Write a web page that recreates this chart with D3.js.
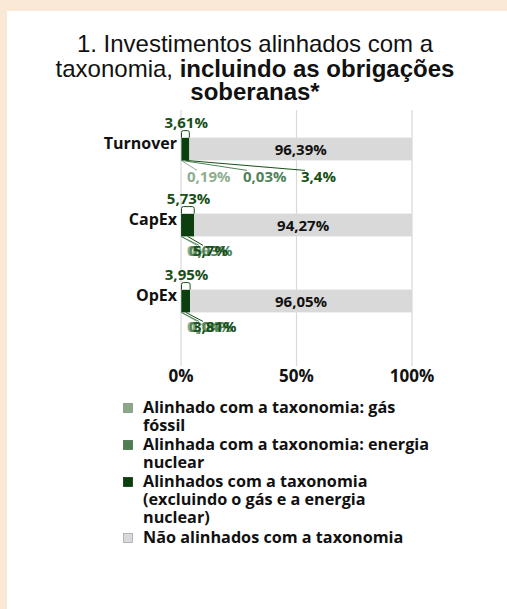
<!DOCTYPE html>
<html>
<head>
<meta charset="utf-8">
<script src="https://cdn.jsdelivr.net/npm/d3@7"></script>
<style>
  html, body { margin: 0; padding: 0; background: #fbe9d7; }
  svg { display: block; }
</style>
</head>
<body>
<div id="chart"></div>
<script>
// Taxonomy-aligned investments, including sovereign bonds
const categories = ["Turnover", "CapEx", "OpEx"];
const gasFossil = [0.19, 0.0, 0.1];
const nuclear = [0.03, 0.03, 0.04];
const alignedExcl = [3.4, 5.7, 3.81];
const notAligned = [96.39, 94.27, 96.05];
const alignedTotal = [3.61, 5.73, 3.95];
const xTicks = [0, 50, 100];

const legendLines = [
  ["Alinhado com a taxonomia: gás", "fóssil"],
  ["Alinhada com a taxonomia: energia", "nuclear"],
  ["Alinhados com a taxonomia", "(excluindo o gás e a energia", "nuclear)"],
  ["Não alinhados com a taxonomia"]
];

const colors = ["#8aa88a", "#4e7d52", "#0b3f0f", "#d9d9d9"];
const labelColors = ["#8fae8f", "#50835a", "#174f17", "#111111"];

const width = 507, height = 609;
const fmt = v => String(v).replace(".", ",") + "%";
const labelFont = "'Open Sans', Lato, sans-serif";

const svg = d3.select("#chart").append("svg")
  .attr("width", width)
  .attr("height", height);

// white panel
svg.append("rect")
  .attr("x", 7).attr("y", 11)
  .attr("width", width - 7).attr("height", height - 11)
  .attr("fill", "#ffffff");

// title
const title = svg.append("text")
  .attr("text-anchor", "middle")
  .style("font-family", "'Liberation Sans', Arial, sans-serif")
  .style("font-size", "24px")
  .attr("fill", "#111");
title.append("tspan").attr("x", 255).attr("y", 52).text("1. Investimentos alinhados com a");
const l2 = title.append("tspan").attr("x", 255).attr("y", 77);
l2.append("tspan").text("taxonomia, ");
l2.append("tspan").style("font-weight", "bold").text("incluindo as obrigações");
title.append("tspan").attr("x", 255).attr("y", 100).style("font-weight", "bold").text("soberanas*");

// scales
const x = d3.scaleLinear().domain([0, 100]).range([181, 412]);
const y = d3.scaleBand().domain(categories).range([111, 339]).paddingInner(0.7).paddingOuter(0.35);

const rows = categories.map((c, i) => ({
  cat: c, gas: gasFossil[i], nuc: nuclear[i], excl: alignedExcl[i], not: notAligned[i], total: alignedTotal[i]
}));
const keys = ["gas", "nuc", "excl", "not"];
const stacked = d3.stack().keys(keys)(rows);

// gridlines
svg.append("g")
  .selectAll("line")
  .data(xTicks)
  .join("line")
  .attr("x1", d => x(d)).attr("x2", d => x(d))
  .attr("y1", 110).attr("y2", 366)
  .attr("stroke", "#d9d9d9")
  .attr("stroke-width", 1.2);

// bars
svg.append("g")
  .selectAll("g")
  .data(stacked)
  .join("g")
  .attr("fill", (d, i) => colors[i])
  .selectAll("rect")
  .data(d => d)
  .join("rect")
  .attr("x", d => x(d[0]))
  .attr("y", d => y(d.data.cat))
  .attr("width", d => Math.max(0, x(d[1]) - x(d[0])))
  .attr("height", y.bandwidth());

// not-aligned value labels
svg.append("g")
  .selectAll("text")
  .data(stacked[3])
  .join("text")
  .attr("x", d => (x(d[0]) + x(100)) / 2)
  .attr("y", d => y(d.data.cat) + y.bandwidth() / 2 + 5.5)
  .attr("text-anchor", "middle")
  .style("font-family", labelFont)
  .style("font-weight", "bold")
  .style("font-size", "15px")
  .attr("fill", "#111")
  .text(d => fmt(d.data.not));

// top callout: aligned total
const topCallout = svg.append("g");
rows.forEach(r => {
  const y0 = y(r.cat);
  const xa = x(0) + 0.5, xb = x(r.total);
  topCallout.append("path")
    .attr("d", `M${xa},${y0} V${y0 - 5} Q${xa},${y0 - 7} ${xa + 2},${y0 - 7} H${xb - 2} Q${xb},${y0 - 7} ${xb},${y0 - 5} V${y0}`)
    .attr("fill", "#fff")
    .attr("stroke", "#174f17")
    .attr("stroke-width", 1);
  topCallout.append("text")
    .attr("x", x(r.total / 2) + 1)
    .attr("y", y0 - 10)
    .attr("text-anchor", "middle")
    .style("font-family", labelFont)
    .style("font-weight", "bold")
    .style("font-size", "15px")
    .attr("fill", "#174f17")
    .text(fmt(r.total));
});

// bottom callouts for the small aligned segments (label offsets from the axis)
const calloutDx = [
  [6, 62, 120],
  [6, 8, 12],
  [6, 8, 12]
];
const calloutDy = [22, 20, 20];
const bottomCallout = svg.append("g");
rows.forEach((r, i) => {
  const yb = y(r.cat) + y.bandwidth();
  [0, 1, 2].forEach(k => {
    const seg = stacked[k][i];
    const sx = x((seg[0] + seg[1]) / 2);
    const lx = x(0) + calloutDx[i][k];
    const ly = yb + calloutDy[i];
    const ex = i === 0 ? lx + (k === 0 ? 10 : 4) : lx + 10;
    bottomCallout.append("line")
      .attr("x1", sx).attr("y1", yb)
      .attr("x2", ex).attr("y2", ly - (i === 0 ? 12 : 11))
      .attr("stroke", labelColors[k])
      .attr("stroke-width", 1);
    bottomCallout.append("text")
      .attr("x", lx)
      .attr("y", ly)
      .style("font-family", labelFont)
      .style("font-weight", "bold")
      .style("font-size", "15px")
      .attr("fill", labelColors[k])
      .text(fmt([r.gas, r.nuc, r.excl][k]));
  });
});

// category labels
svg.append("g")
  .selectAll("text")
  .data(categories)
  .join("text")
  .attr("x", x(0) - 4)
  .attr("y", d => y(d) + 11)
  .attr("text-anchor", "end")
  .style("font-family", labelFont)
  .style("font-weight", "bold")
  .style("font-size", "16px")
  .attr("fill", "#111")
  .text(d => d);

// x axis labels
svg.append("g")
  .selectAll("text")
  .data(xTicks)
  .join("text")
  .attr("x", d => x(d))
  .attr("y", 382)
  .attr("text-anchor", "middle")
  .style("font-family", labelFont)
  .style("font-weight", "bold")
  .style("font-size", "17px")
  .attr("fill", "#111")
  .text(d => d + "%");

// legend
const legend = svg.append("g").attr("transform", "translate(123,0)");
const legendY = [413, 450, 487, 543];
legendLines.forEach((lines, i) => {
  const g = legend.append("g");
  g.append("rect")
    .attr("x", 0.5).attr("y", legendY[i] - 9.5)
    .attr("width", 9).attr("height", 9)
    .attr("fill", colors[i])
    .attr("stroke", i === 3 ? "#a6a6a6" : d3.color(colors[i]).darker(0.3))
    .attr("stroke-width", 0.8);
  g.append("text")
    .style("font-family", labelFont)
    .style("font-weight", "bold")
    .style("font-size", "16.2px")
    .attr("fill", "#111")
    .selectAll("tspan")
    .data(lines)
    .join("tspan")
    .attr("x", 20)
    .attr("y", (d, j) => legendY[i] + j * 18)
    .text(d => d);
});
</script>
</body>
</html>
